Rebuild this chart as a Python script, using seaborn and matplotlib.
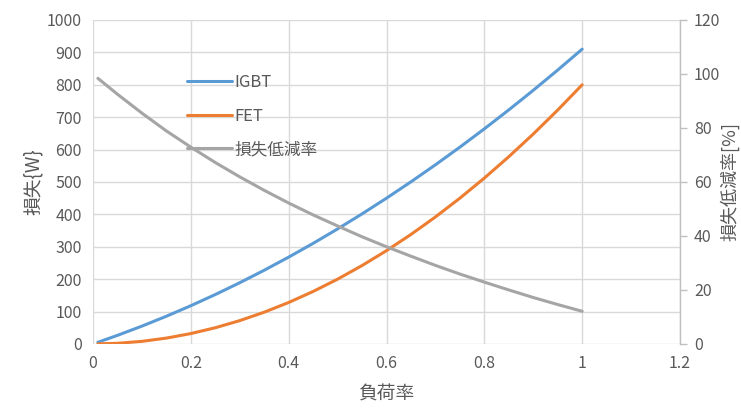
import matplotlib
matplotlib.use("Agg")
import matplotlib.pyplot as plt
import seaborn as sns
import pandas as pd

# Load ratio and loss data
load_ratio = [0.01, 0.05, 0.1, 0.15, 0.2, 0.25, 0.3, 0.35, 0.4, 0.45, 0.5,
              0.55, 0.6, 0.65, 0.7, 0.75, 0.8, 0.85, 0.9, 0.95, 1.0]
igbt_loss = [5.1, 26.5, 55, 85.5, 118, 152.5, 189, 227.5, 268, 310.5, 355,
             401.5, 450, 500.5, 553, 607.5, 664, 722.5, 783, 845.5, 910]
fet_loss = [0.1, 2, 8, 18, 32, 50, 72, 98, 128, 162, 200,
            242, 288, 338, 392, 450, 512, 578, 648, 722, 800]
reduction = [98.4, 92.5, 85.5, 78.9, 72.9, 67.2, 61.9, 56.9, 52.2, 47.8, 43.7,
             39.7, 36.0, 32.5, 29.1, 25.9, 22.9, 20.0, 17.2, 14.6, 12.1]

df = pd.DataFrame({"load": load_ratio, "IGBT": igbt_loss, "FET": fet_loss,
                   "reduction": reduction})

sns.set_theme(style="white")
plt.rcParams["font.family"] = ["Noto Sans CJK JP", "DejaVu Sans"]

text_c = "#595959"
grid_c = "#D9D9D9"

fig = plt.figure(figsize=(7.41, 4.08), dpi=100)
ax = fig.add_axes([0.1255, 0.157, 0.7922, 0.794])
ax2 = ax.twinx()

sns.lineplot(data=df, x="load", y="IGBT", ax=ax, color="#5B9BD5", lw=2.2,
             label="IGBT", legend=False)
sns.lineplot(data=df, x="load", y="FET", ax=ax, color="#ED7D31", lw=2.2,
             label="FET", legend=False)
sns.lineplot(data=df, x="load", y="reduction", ax=ax2, color="#A5A5A5", lw=2.2,
             label="損失低減率", legend=False)

ax.set_xlim(0, 1.2)
ax.set_ylim(0, 1000)
ax2.set_ylim(0, 120)
ax.set_xticks([0, 0.2, 0.4, 0.6, 0.8, 1.0, 1.2])
ax.set_xticklabels(["0", "0.2", "0.4", "0.6", "0.8", "1", "1.2"])
ax.set_yticks(range(0, 1001, 100))
ax2.set_yticks(range(0, 121, 20))

ax.grid(True, color=grid_c, lw=1)
ax.set_axisbelow(True)
for s in ["top", "bottom", "left", "right"]:
    ax.spines[s].set_visible(False)
for s in ["top", "bottom", "left"]:
    ax2.spines[s].set_visible(False)
ax2.spines["right"].set_color("#BFBFBF")
ax2.spines["right"].set_linewidth(1)

ax.tick_params(axis="both", length=0, labelsize=11.5, colors=text_c, pad=8)
ax2.tick_params(axis="y", length=5, width=1, color="#BFBFBF", labelsize=11.5,
                labelcolor=text_c, pad=5, direction="out")

ax.set_xlabel("負荷率", fontsize=13.5, color=text_c, labelpad=8)
ax.set_ylabel("損失{W}", fontsize=13.5, color=text_c, labelpad=2)
ax2.set_ylabel("損失低減率[%]", fontsize=13, color=text_c, labelpad=0)

handles = ax.get_lines()[:2] + ax2.get_lines()[:1]
labels = ["IGBT", "FET", "損失低減率"]
leg = ax.legend(handles, labels, loc="upper left", bbox_to_anchor=(0.135, 0.88),
                frameon=False, fontsize=12, handlelength=2.7, handletextpad=0.15,
                labelspacing=1.0)
for t in leg.get_texts():
    t.set_color(text_c)

fig.savefig("out.png", dpi=100)
